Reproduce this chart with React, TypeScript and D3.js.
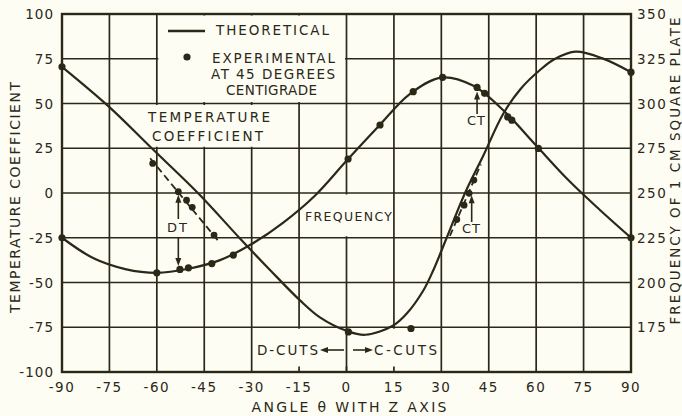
import React from "react";
import * as d3 from "d3";

const W = 682;
const H = 416;
const INK = "#2b2818";
const BG = "#fdfdf4";
const FONT = "'DejaVu Sans', sans-serif";

// axis ticks
const xTicks = [-90, -75, -60, -45, -30, -15, 0, 15, 30, 45, 60, 75, 90];
const yTicks = [100, 75, 50, 25, 0, -25, -50, -75, -100];
const yTicksRight = [350, 325, 300, 275, 250, 225, 200, 175];

// theoretical temperature coefficient curve
const tcTheoAngle = [-90, -75, -61.6, -47, -33.7, -24.2, -14.7, -8.4, 0, 6, 14.8, 19, 24.3, 27.5, 31.7, 37.5, 43.3, 49.5, 55, 61.2, 66, 72.5, 81, 90];
const tcTheoValue = [70.5, 48, 25, 0, -25.4, -43, -60, -69.5, -77, -79.2, -74, -67.5, -54.5, -43, -25, 0, 21, 44, 58, 68.7, 75, 79, 75.2, 67.5];

// theoretical frequency curve (left-axis units = kc - 250)
const fTheoAngle = [-90, -80, -70, -60, -50, -40, -30, -20, -10, 0, 10, 20, 30, 40, 50, 60, 70, 80, 90];
const fTheoValue = [-25, -36.5, -42.5, -44.6, -42.3, -37.5, -28.5, -16.5, -1.5, 18, 37, 55.3, 64.5, 60, 45.5, 26.5, 7.5, -9.2, -25];

// experimental frequency points
const fExpAngle = [-90, -60, -52.7, -50, -42.6, -35.8, 0.5, 10.6, 21.1, 30.4, 41.3, 43.7, 51, 52.3, 60.7, 90];
const fExpValue = [-25, -44.6, -42.7, -41.8, -39.4, -34.7, 19, 38, 56.6, 64.6, 59, 55.7, 42.5, 40.7, 24.9, -25];

// experimental temperature coefficient points on the solid curve
const tcExpAngle = [-90, 0.6, 20.4, 90];
const tcExpValue = [70.5, -77.6, -75.7, 67.5];

// experimental temperature coefficient, D-cut side (dashed)
const dtPointAngle = [-61.3, -53.2, -50.6, -48.8, -41.9];
const dtPointValue = [16.5, 0.7, -4, -8, -23.5];
const dtLineAngle = [-62.1, -40.3];
const dtLineValue = [19.4, -27.3];

// experimental temperature coefficient, C-cut side (dashed)
const ctPointAngle = [34.9, 37.2, 38.8, 40.3];
const ctPointValue = [-14.8, -6.8, -0.2, 7.2];
const ctLineAngle = [32.7, 42.5];
const ctLineValue = [-24, 16];

const zip = (a: number[], b: number[]) => a.map((v, i) => [v, b[i]] as [number, number]);

export default function App() {
  const x = d3.scaleLinear().domain([-90, 90]).range([62, 631]);
  const y = d3.scaleLinear().domain([-100, 100]).range([372, 14]);
  const yR = d3.scaleLinear().domain([150, 350]).range([372, 14]);

  const smooth = d3
    .line<[number, number]>()
    .x((d) => x(d[0]))
    .y((d) => y(d[1]))
    .curve(d3.curveCatmullRom.alpha(0.5));
  const straight = d3
    .line<[number, number]>()
    .x((d) => x(d[0]))
    .y((d) => y(d[1]));

  const txt = (props: any, s: string) => (
    <text fontFamily={FONT} fill={INK} {...props}>
      {s}
    </text>
  );

  const arrowUp = (cx: number, tipY: number, fromY: number) => (
    <g>
      <line x1={cx} x2={cx} y1={fromY} y2={tipY + 5} stroke={INK} strokeWidth={1.6} />
      <path d={`M${cx},${tipY} L${cx - 3},${tipY + 8} L${cx + 3},${tipY + 8} Z`} fill={INK} />
    </g>
  );
  const arrowDown = (cx: number, tipY: number, fromY: number) => (
    <g>
      <line x1={cx} x2={cx} y1={fromY} y2={tipY - 5} stroke={INK} strokeWidth={1.6} />
      <path d={`M${cx},${tipY} L${cx - 3},${tipY - 8} L${cx + 3},${tipY - 8} Z`} fill={INK} />
    </g>
  );

  const gridV = xTicks.slice(1, -1);
  const gridH = yTicks.slice(1, -1);

  return (
    <div style={{ position: "absolute", left: 0, top: 0 }}>
      <svg width={W} height={H} style={{ display: "block", background: BG }}>
        <rect x={0} y={0} width={W} height={H} fill={BG} />
        {/* grid */}
        {gridV.map((v) => (
          <line key={"gv" + v} x1={x(v)} x2={x(v)} y1={y(100)} y2={y(-100)} stroke={INK} strokeWidth={1.7} />
        ))}
        {gridH.map((v) => (
          <line key={"gh" + v} x1={x(-90)} x2={x(90)} y1={y(v)} y2={y(v)} stroke={INK} strokeWidth={1.7} />
        ))}
        {/* blank areas for labels */}
        <rect x={x(-60) + 1.5} y={y(100) + 1.5} width={x(0) - x(-60) - 3} height={y(50) - y(100) - 3} fill={BG} />
        <rect x={x(-72.5)} y={y(50) + 1.5} width={x(-15) - x(-72.5) - 1.5} height={y(25) - y(50) - 3} fill={BG} />
        <rect x={x(-15) + 1.5} y={y(0) + 1.5} width={x(15) - x(-15) - 3} height={y(-25) - y(0) - 3} fill={BG} />
        <rect x={x(-30) + 1.5} y={y(-75) + 1.5} width={x(30) - x(-30) - 3} height={y(-100) - y(-75) - 7} fill={BG} />
        <line x1={x(0)} x2={x(0)} y1={y(-75)} y2={y(-100)} stroke={INK} strokeWidth={1.7} />

        {/* frame */}
        <rect x={x(-90)} y={y(100)} width={x(90) - x(-90)} height={y(-100) - y(100)} fill="none" stroke={INK} strokeWidth={2.4} />

        {/* left tick labels */}
        {yTicks.map((v) =>
          <text key={"yl" + v} x={54} y={y(v) + 5} textAnchor="end" fontFamily={FONT} fontSize={13.5} letterSpacing={1} fill={INK}>
            {v < 0 ? "-" + Math.abs(v) : String(v)}
          </text>
        )}
        {/* right tick labels */}
        {yTicksRight.map((v) =>
          <text key={"yr" + v} x={637} y={yR(v) + 5} textAnchor="start" fontFamily={FONT} fontSize={13.5} letterSpacing={1.5} fill={INK}>
            {String(v)}
          </text>
        )}
        {/* bottom tick labels */}
        {xTicks.map((v) =>
          <text key={"xl" + v} x={x(v)} y={392} textAnchor="middle" fontFamily={FONT} fontSize={13.5} letterSpacing={1.5} fill={INK}>
            {v < 0 ? "-" + Math.abs(v) : String(v)}
          </text>
        )}

        {/* axis titles */}
        {txt({ x: 349, y: 411.5, textAnchor: "middle", fontSize: 14, textLength: 195, lengthAdjust: "spacing" }, "ANGLE θ WITH Z AXIS")}
        {txt({ transform: "translate(20,197.5) rotate(-90)", textAnchor: "middle", fontSize: 14, textLength: 231, lengthAdjust: "spacing" }, "TEMPERATURE COEFFICIENT")}
        {txt({ transform: "translate(679.5,171) rotate(-90)", textAnchor: "middle", fontSize: 13.5, textLength: 307, lengthAdjust: "spacing" }, "FREQUENCY OF 1 CM SQUARE PLATE")}

        {/* legend */}
        <line x1={168} x2={205} y1={31} y2={31} stroke={INK} strokeWidth={2.4} />
        {txt({ x: 216, y: 35, fontSize: 13.5, textLength: 113, lengthAdjust: "spacing" }, "THEORETICAL")}
        <circle cx={187} cy={57} r={3.6} fill={INK} />
        {txt({ x: 212, y: 63, fontSize: 13.5, textLength: 123, lengthAdjust: "spacing" }, "EXPERIMENTAL")}
        {txt({ x: 211, y: 78.5, fontSize: 13.5, textLength: 124, lengthAdjust: "spacing" }, "AT 45 DEGREES")}
        {txt({ x: 226, y: 95, fontSize: 13.5, textLength: 91, lengthAdjust: "spacing" }, "CENTIGRADE")}

        {/* curve labels */}
        {txt({ x: 148, y: 122, fontSize: 13.5, textLength: 122, lengthAdjust: "spacing" }, "TEMPERATURE")}
        {txt({ x: 152, y: 141, fontSize: 13.5, textLength: 111, lengthAdjust: "spacing" }, "COEFFICIENT")}
        {txt({ x: 305, y: 221, fontSize: 12.5, textLength: 87, lengthAdjust: "spacing" }, "FREQUENCY")}
        {txt({ x: 257, y: 355, fontSize: 13.5, textLength: 61, lengthAdjust: "spacing" }, "D-CUTS")}
        {txt({ x: 374, y: 355, fontSize: 13.5, textLength: 63, lengthAdjust: "spacing" }, "C-CUTS")}
        {/* cut arrows */}
        <line x1={326} x2={344} y1={350} y2={350} stroke={INK} strokeWidth={1.6} />
        <path d="M320,350 L328,347 L328,353 Z" fill={INK} />
        <line x1={353} x2={368} y1={350} y2={350} stroke={INK} strokeWidth={1.6} />
        <path d="M373,350 L365,347 L365,353 Z" fill={INK} />

        {/* DT / CT annotations */}
        {txt({ x: 167, y: 231.5, fontSize: 13, textLength: 20, lengthAdjust: "spacing" }, "DT")}
        {arrowUp(x(-53.2), y(0.7) + 3, 219)}
        {arrowDown(x(-53.2), 266, 237)}
        {txt({ x: 467, y: 125, fontSize: 13, textLength: 18, lengthAdjust: "spacing" }, "CT")}
        {arrowUp(x(41.3), y(59) + 4, 114)}
        {txt({ x: 462, y: 233, fontSize: 13, textLength: 18, lengthAdjust: "spacing" }, "CT")}
        {arrowUp(x(39.6), y(-0.2) + 2, 222)}

        {/* curves */}
        <path d={smooth(zip(tcTheoAngle, tcTheoValue)) || ""} fill="none" stroke={INK} strokeWidth={2.2} />
        <path d={smooth(zip(fTheoAngle, fTheoValue)) || ""} fill="none" stroke={INK} strokeWidth={2.2} />
        <path d={straight(zip(dtLineAngle, dtLineValue)) || ""} fill="none" stroke={INK} strokeWidth={1.8} strokeDasharray="7,4" />
        <path d={straight(zip(ctLineAngle, ctLineValue)) || ""} fill="none" stroke={INK} strokeWidth={1.8} strokeDasharray="7,4" />

        {/* experimental points */}
        {zip(fExpAngle, fExpValue).map((d, i) => (
          <circle key={"fe" + i} cx={x(d[0])} cy={y(d[1])} r={3.6} fill={INK} />
        ))}
        {zip(tcExpAngle, tcExpValue).map((d, i) => (
          <circle key={"te" + i} cx={x(d[0])} cy={y(d[1])} r={3.6} fill={INK} />
        ))}
        {zip(dtPointAngle, dtPointValue).map((d, i) => (
          <circle key={"dt" + i} cx={x(d[0])} cy={y(d[1])} r={3.4} fill={INK} />
        ))}
        {zip(ctPointAngle, ctPointValue).map((d, i) => (
          <circle key={"ct" + i} cx={x(d[0])} cy={y(d[1])} r={3.4} fill={INK} />
        ))}
      </svg>
    </div>
  );
}
